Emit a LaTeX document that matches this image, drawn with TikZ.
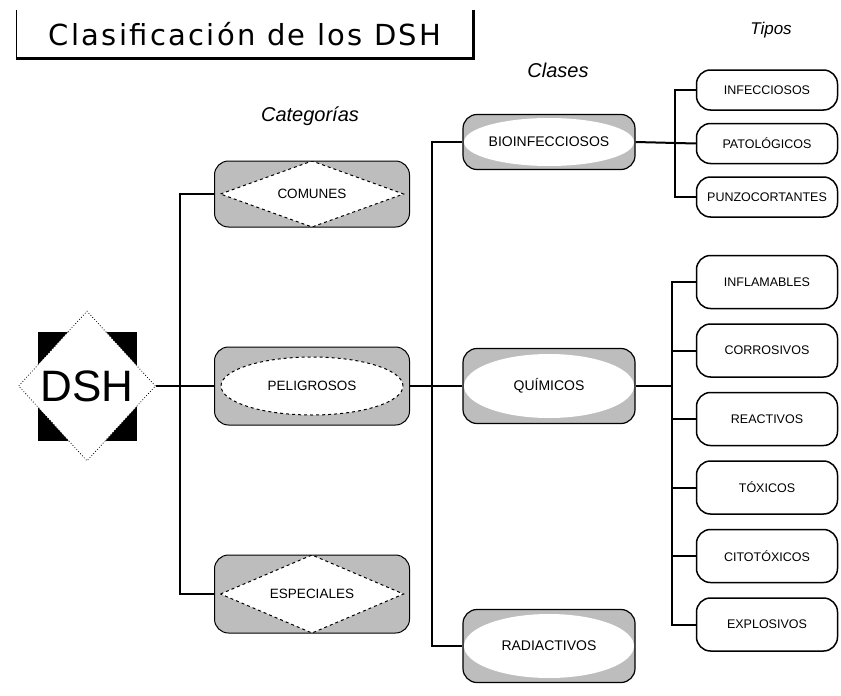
\documentclass[tikz,border=0pt]{standalone}
\usepackage{fontspec}
\setmainfont{DejaVu Sans}
\newfontfamily\lblfont{Liberation Sans}
\newfontfamily\titlefont[LetterSpace=8]{DejaVu Sans}
\usepackage{xcolor}
\usetikzlibrary{shapes.geometric, positioning}
\definecolor{boxgray}{HTML}{BDBDBD}

\begin{document}
\begin{tikzpicture}[x=1pt, y=-1pt,
line/.style={line width=2pt},
catbox/.style={rectangle, draw=black, line width=1pt, rounded corners=14pt, fill=boxgray, minimum width=195pt, minimum height=78pt, font=\lblfont\fontsize{13.5}{15}\selectfont},
catdiamond/.style={catbox, path picture={\draw[sharp corners, dashed, line width=1pt, fill=white] ([xshift=6pt]path picture bounding box.west) -- (path picture bounding box.north) -- ([xshift=-6pt]path picture bounding box.east) -- (path picture bounding box.south) -- cycle;}},
catoval/.style={catbox, path picture={\draw[dashed, line width=1pt, fill=white] (path picture bounding box.center) ellipse (91pt and 29pt);}},
clsbox/.style={rectangle, draw=black, line width=1.2pt, rounded corners=14pt, fill=boxgray, minimum width=172pt, font=\lblfont\fontsize{14}{16}\selectfont, path picture={\fill[white] (path picture bounding box.center) ellipse (85pt and #1);}},
tipobox/.style={rectangle, draw=black, line width=1.5pt, rounded corners=14pt, fill=white, minimum width=141pt, minimum height=53pt, font=\lblfont\fontsize{12.5}{14}\selectfont},
heading/.style={font=\lblfont\itshape\fontsize{20}{22}\selectfont}
]
\useasboundingbox (0,0) rectangle (841,696);

% titulo
\node[minimum width=457pt, minimum height=48pt, font=\titlefont\fontsize{29}{32}\selectfont] (title) at (245,34) {Clasificación de los DSH};
\draw[line width=0.8pt] (title.north west) -- (title.south west);
\draw[line width=2.8pt] (title.south west) -- (title.south east) -- (title.north east);

\node[heading] (lblcat) at (310,116) {Categorías};
\node[heading] (lblcls) at (558,70) {Clases};
\node[heading, font=\lblfont\itshape\fontsize{17}{19}\selectfont] (lbltipos) at (771,30) {Tipos};

% DSH
\node[fill=black, minimum width=99pt, minimum height=109pt] (dshbg) at (87,386) {};
\node[diamond, draw=black, dotted, thick, fill=white, minimum width=137pt, minimum height=150pt, inner sep=0pt, font=\lblfont\fontsize{44}{46}\selectfont] (dsh) at (87,386) {DSH};

% categorias
\node[catdiamond, minimum height=66pt] (comunes) at (312,194) {COMUNES};
\node[catoval] (peligrosos) at (312,386) {PELIGROSOS};
\node[catdiamond] (especiales) at (312,594) {ESPECIALES};

% clases
\node[clsbox=24pt, minimum height=55pt] (bio) at (549,142) {BIOINFECCIOSOS};
\node[clsbox=32pt, minimum height=75pt] (quimicos) at (549,386) {QUÍMICOS};
\node[clsbox=32pt, minimum height=73pt] (radiactivos) at (549,646) {RADIACTIVOS};

% tipos
\node[tipobox, minimum height=40pt] (infecciosos) at (767,90) {INFECCIOSOS};
\node[tipobox, minimum height=40pt, below=12pt of infecciosos] (patologicos) {PATOLÓGICOS};
\node[tipobox, minimum height=40pt, below=12pt of patologicos] (punzo) {PUNZOCORTANTES};

\node[tipobox] (inflamables) at (767,282) {INFLAMABLES};
\node[tipobox, below=14pt of inflamables] (corrosivos) {CORROSIVOS};
\node[tipobox, below=14pt of corrosivos] (reactivos) {REACTIVOS};
\node[tipobox, below=14pt of reactivos] (toxicos) {TÓXICOS};
\node[tipobox, below=14pt of toxicos] (citotoxicos) {CITOTÓXICOS};
\node[tipobox, below=14pt of citotoxicos] (explosivos) {EXPLOSIVOS};

% conexiones
\coordinate (trunkA) at (180,386);
\draw[line] (dsh.east) -- (peligrosos.west);
\draw[line] (comunes.west) -| (trunkA) |- (especiales.west);
\coordinate (trunkB) at (432,386);
\draw[line] (peligrosos.east) -- (quimicos.west);
\draw[line] (bio.west) -| (trunkB) |- (radiactivos.west);
\coordinate (trunkC) at (675,142);
\draw[line] (bio.east) -- (patologicos.west);
\draw[line] (infecciosos.west) -| (trunkC) |- (punzo.west);
\coordinate (trunkD) at (672,386);
\draw[line] (quimicos.east) -- (trunkD);
\draw[line] (inflamables.west) -| (trunkD) |- (explosivos.west);
\foreach \t in {corrosivos, reactivos, toxicos, citotoxicos}
  \draw[line] (trunkD |- \t.west) -- (\t.west);
\end{tikzpicture}
\end{document}
